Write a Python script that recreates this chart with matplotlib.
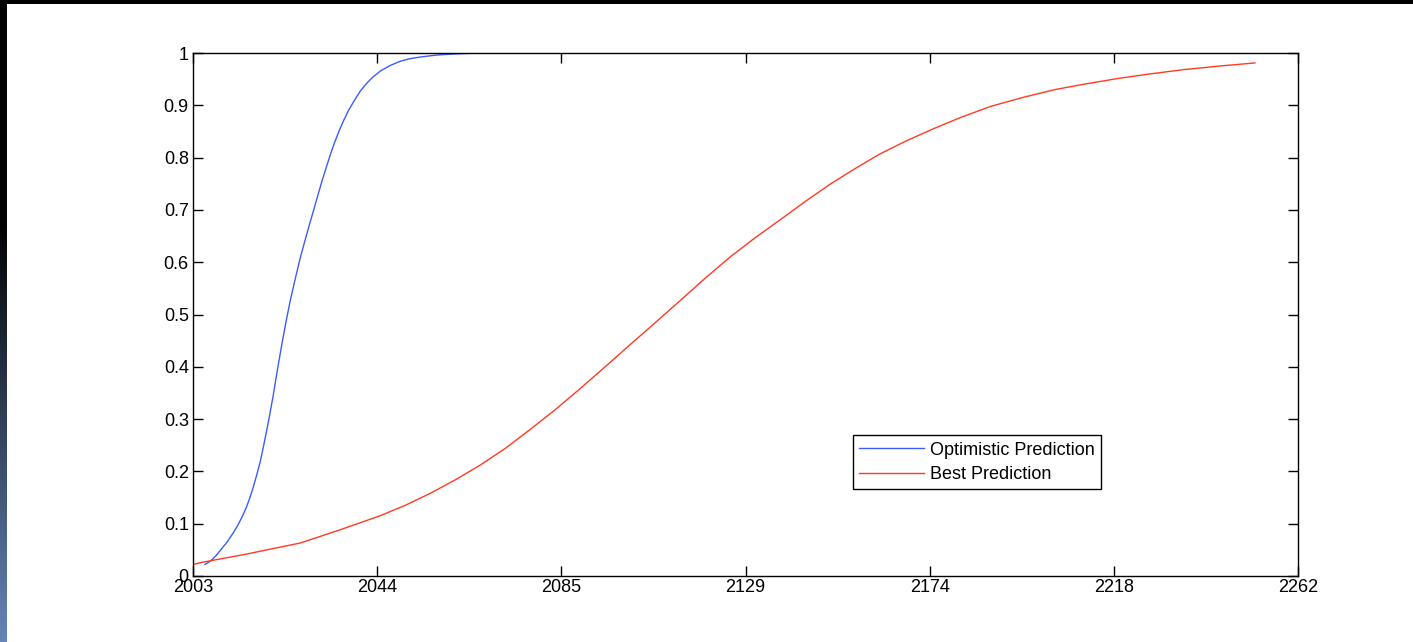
import numpy as np
import matplotlib
matplotlib.use("Agg")
import matplotlib.pyplot as plt

plt.rcParams['font.family'] = ['Liberation Sans', 'DejaVu Sans']

# values
opt_years = [2005.8, 2007.0, 2008.3, 2009.5, 2011.0, 2012.4, 2013.5, 2014.5, 2015.5, 2016.4,
             2017.2, 2018.0, 2018.8, 2019.5, 2020.7, 2021.8, 2022.8, 2023.8, 2024.8, 2025.7,
             2026.9, 2028.1, 2029.3, 2030.4, 2031.4, 2032.3, 2033.3, 2034.3, 2035.2, 2036.2,
             2037.2, 2038.2, 2039.5, 2040.8, 2042.2, 2043.7, 2045.3, 2047.0, 2049.2, 2051.5,
             2053.8, 2056.0, 2058.0, 2060.0, 2063.9, 2070.0, 2100.0, 2150.0, 2200.0, 2252.0]
opt_values = [0.022, 0.028, 0.038, 0.050, 0.065, 0.082, 0.097, 0.113, 0.131, 0.151,
              0.172, 0.195, 0.220, 0.247, 0.296, 0.345, 0.395, 0.442, 0.486, 0.523,
              0.566, 0.607, 0.643, 0.675, 0.703, 0.729, 0.757, 0.783, 0.806, 0.829,
              0.850, 0.869, 0.891, 0.909, 0.927, 0.942, 0.955, 0.966, 0.976, 0.984,
              0.989, 0.992, 0.994, 0.996, 0.998, 1.0, 1.0, 1.0, 1.0, 1.0]

best_years = [2003.0, 2005.0, 2015.0, 2021.5, 2028.1, 2037.0, 2046.8, 2052.7, 2058.6, 2064.5,
              2070.3, 2076.2, 2082.0, 2087.9, 2093.7, 2099.6, 2105.4, 2111.3, 2117.1, 2123.0,
              2128.9, 2134.8, 2140.6, 2146.5, 2152.3, 2158.2, 2164.0, 2170.2, 2176.5, 2183.0,
              2190.0, 2197.5, 2205.0, 2212.3, 2219.6, 2227.3, 2235.0, 2243.5, 2251.9]
best_values = [0.022, 0.026, 0.041, 0.052, 0.063, 0.087, 0.115, 0.135, 0.158, 0.184,
               0.212, 0.244, 0.280, 0.318, 0.358, 0.400, 0.442, 0.484, 0.526, 0.569,
               0.610, 0.647, 0.681, 0.716, 0.749, 0.779, 0.807, 0.832, 0.855, 0.877,
               0.898, 0.915, 0.930, 0.941, 0.951, 0.960, 0.968, 0.975, 0.981]

xtick_labels = ['2003', '2044', '2085', '2129', '2174', '2218', '2262']
ytick_values = [0, 0.1, 0.2, 0.3, 0.4, 0.5, 0.6, 0.7, 0.8, 0.9, 1]
ytick_labels = ['0', '0.1', '0.2', '0.3', '0.4', '0.5', '0.6', '0.7', '0.8', '0.9', '1']

W, H = 1413, 642
fig = plt.figure(figsize=(W / 100, H / 100), dpi=100)
fig.patch.set_facecolor('white')

# black band at top and dark-to-blue strip on the left
top = fig.add_axes([0, 1 - 4 / H, 1, 4 / H])
top.set_axis_off()
top.add_patch(plt.Rectangle((0, 0), 1, 1, color='black', transform=top.transAxes))

strip = fig.add_axes([0, 0, 7 / W, 1])
strip.set_axis_off()
rows = np.linspace(0, 1, H)
grad = np.zeros((H, 1, 3))
start = 221 / H
end_col = np.array([0x66, 0x85, 0xb8]) / 255.0
for i, r in enumerate(rows):
    t = max(0.0, (r - start) / (1 - start))
    grad[i, 0] = end_col * t
strip.imshow(grad, aspect='auto', extent=[0, 1, 1, 0])

ax = fig.add_axes([193 / W, (H - 576) / H, 1105 / W, 523 / H])
ax.plot(opt_years, opt_values, color='#3a5cff', lw=1.0, label='Optimistic Prediction')
ax.plot(best_years, best_values, color='#ff3a22', lw=1.0, label='Best Prediction')

ax.set_xlim(2003, 2262)
ax.set_ylim(0, 1)
ax.set_xticks(np.linspace(2003, 2262, len(xtick_labels)))
ax.set_xticklabels(xtick_labels)
ax.set_yticks(ytick_values)
ax.set_yticklabels(ytick_labels)
ax.tick_params(direction='in', length=7, width=1, top=True, right=True,
               labelsize=13, colors='black')
ax.tick_params(axis='x', pad=2)
ax.tick_params(axis='y', pad=3)
for s in ax.spines.values():
    s.set_linewidth(1)
    s.set_color('black')

leg = ax.legend(loc='lower left', bbox_to_anchor=(0.597, 0.166), borderaxespad=0,
                fontsize=13, fancybox=False, edgecolor='black', framealpha=1,
                handlelength=3.6, borderpad=0.35, labelspacing=0.4, handletextpad=0.35)
leg.get_frame().set_linewidth(1)

fig.savefig('out.png', dpi=100, facecolor='white')
